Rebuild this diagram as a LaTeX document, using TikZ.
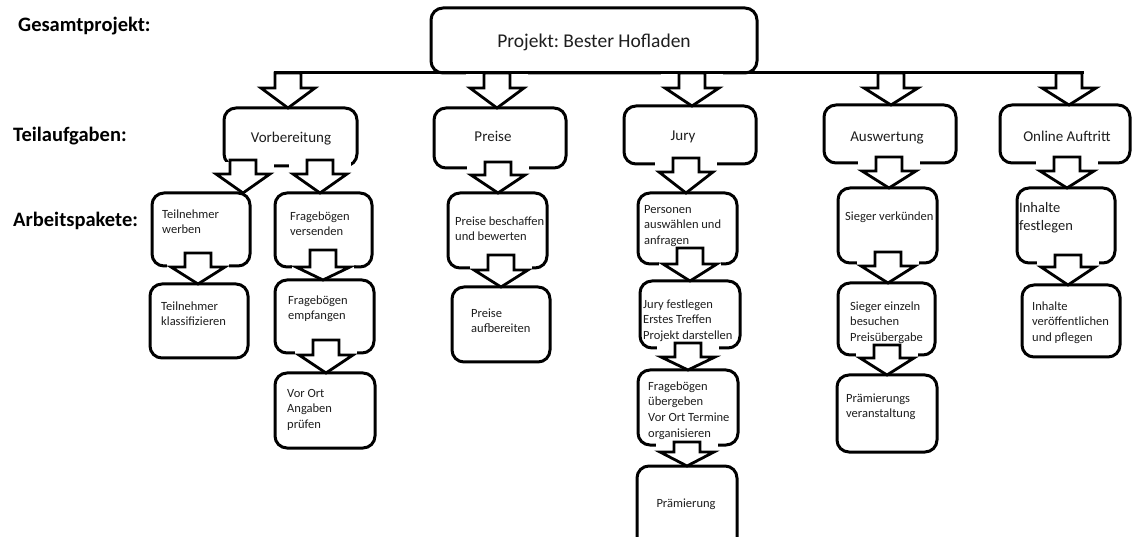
\documentclass[tikz,border=0pt]{standalone}
\usepackage{fontspec}
\setmainfont{Carlito}
\frenchspacing
\usetikzlibrary{calc}
\definecolor{ink}{HTML}{1E1E1E}
\newcommand\fs{\rule{0pt}{10pt}}
\newcommand\fL{\rule{0pt}{12pt}}
\tikzset{
  box/.style={draw=black, line width=3pt, rounded corners=12pt, outer sep=0pt, inner sep=0pt, anchor=north west},
  txt/.style={font=\fontsize{12.5}{15.7}\selectfont, text=ink, inner sep=0pt, anchor=north west, align=left, yshift=10pt},
  txtL/.style={font=\fontsize{14.5}{18}\selectfont, text=ink, inner sep=0pt, anchor=north west, align=left, yshift=12pt},
  mid/.style={font=\fontsize{15}{18}\selectfont, text=ink, inner sep=0pt, anchor=base},
  lbl/.style={font=\bfseries\fontsize{20.5}{24}\selectfont, inner sep=0pt, anchor=base west},
  blkar/.style={draw=black, fill=white, line width=2.8pt, line join=miter},
  barline/.style={draw=black, line width=3pt, line cap=rect}
}
\newcommand\bx[5]{\node[box, minimum width={#4-#2}, minimum height={#5-#3}] (#1) at (#2,#3) {};}
% #1 parent point, #2 child node, #3 x, #4 stem top above parent, #5 head top below parent
\newcommand\blk[5]{%
  \fill[white] let \p1=(#1) in (#3pt-31pt,\y1-3.5pt) rectangle (#3pt+31pt,\y1+3.5pt);
  \draw[blkar] let \p1=(#1), \p2=(#2.north) in
    (#3pt-13pt,\y1+#4pt) -- (#3pt+13pt,\y1+#4pt) -- (#3pt+13pt,\y1-#5pt) --
    (#3pt+27pt,\y1-#5pt) -- (#3pt,\y2) -- (#3pt-27pt,\y1-#5pt) --
    (#3pt-13pt,\y1-#5pt) -- cycle;
}
\begin{document}
\begin{tikzpicture}[x=1pt,y=-1pt]
\useasboundingbox (0,0) rectangle (1136,537);
\fill[white] (0,0) rectangle (1136,537);

% row labels
\node[lbl] (lg) at (18,32) {Gesamtprojekt:};
\node[lbl] (lt) at (13,142) {Teilaufgaben:};
\node[lbl] (la) at (13,227) {Arbeitspakete:};

% boxes
\bx{top}{431}{8}{757}{73}
\bx{vorb}{224}{108}{357}{166}
\bx{preise}{434}{108}{566}{168}
\bx{jury}{624}{106}{756}{164}
\bx{ausw}{824}{105}{956}{163}
\bx{online}{1000}{105}{1130}{163}
\bx{tw}{152}{193}{250}{266}
\bx{tk}{150}{284}{248}{358}
\bx{fv}{275}{193}{372}{267}
\bx{fe}{275}{280}{374}{353}
\bx{vo}{275}{373}{375}{448}
\bx{pb}{448}{193}{547}{268}
\bx{pa}{452}{287}{550}{362}
\bx{pe}{638}{193}{737}{264}
\bx{jf}{640}{281}{740}{348}
\bx{fu}{638}{370}{738}{445}
\bx{pr}{637}{466}{737}{560}
\bx{sv}{838}{188}{937}{263}
\bx{se}{838}{283}{935}{355}
\bx{pv}{837}{375}{937}{452}
\bx{if}{1017}{188}{1115}{263}
\bx{iv}{1022}{285}{1120}{357}

% texts
\node[font=\fontsize{19.5}{23}\selectfont, text=ink, inner sep=0pt, anchor=base] (ttop) at (594,48) {Projekt: Bester Hofladen};
\node[mid] (tvorb) at (291,143) {Vorbereitung};
\node[mid] (tpreise) at (493,142) {Preise};
\node[mid] (tjury) at (683,141) {Jury};
\node[mid] (tausw) at (887,142) {Auswertung};
\node[mid] (tonline) at (1067,142) {Online Auftritt};

\node[txt] (ttw) at (162,218) {\fs Teilnehmer\\werben};
\node[txt] (ttk) at (161,310) {\fs Teilnehmer\\klassifizieren};
\node[txt] (tfv) at (290,220) {\fs Fragebögen\\versenden};
\node[txt] (tfe) at (288,304) {\fs Fragebögen\\empfangen};
\node[txt] (tvo) at (287,397) {\fs Vor Ort\\Angaben\\prüfen};
\node[txt] (tpb) at (455,225) {\fs Preise beschaffen\\und bewerten};
\node[txt] (tpa) at (471,317) {\fs Preise\\aufbereiten};
\node[txt] (tpe) at (644,213) {\fs Personen\\auswählen und\\anfragen};
\node[txt] (tjf) at (643,308) {\fs Jury festlegen\\Erstes Treffen\\Projekt darstellen};
\node[txt] (tfu) at (648,390) {\fs Fragebögen\\übergeben\\Vor Ort Termine\\organisieren};
\node[font=\fontsize{12.5}{15.7}\selectfont, text=ink, inner sep=0pt, anchor=base] (tpr) at (686,507) {Prämierung};
\node[txt] (tsv) at (845,220) {\fs Sieger verkünden};
\node[txt] (tse) at (850,310) {\fs Sieger einzeln\\besuchen\\Preisübergabe};
\node[txt] (tpv) at (846,402) {\fs Prämierungs\\veranstaltung};
\node[txtL] (tif) at (1019,212) {\fL Inhalte\\festlegen};
\node[txt] (tiv) at (1032,310) {\fs Inhalte\\veröffentlichen\\und pflegen};

% top-level arrows from the bar
\coordinate (barL) at (275,73);
\coordinate (barR) at (1082,73);
\blk{barL}{vorb}{288}{0}{15}
\blk{barL}{preise}{497}{0}{15}
\blk{barL}{jury}{692}{0}{15}
\blk{barL}{ausw}{891}{0}{15}
\blk{barL}{online}{1069}{0}{15}
\draw[barline] (barL) -- (barR);

% second level
\blk{vorb.south}{tw}{243}{6}{8}
\blk{vorb.south}{fv}{320}{6}{8}
\blk{preise.south}{pb}{498}{6}{7}
\blk{jury.south}{pe}{686}{6}{8}
\blk{ausw.south}{sv}{889}{6}{8}
\blk{online.south}{if}{1067}{6}{8}

% third level
\blk{tw.south}{tk}{198}{13}{1}
\blk{fv.south}{fe}{323}{17}{0}
\blk{fe.south}{vo}{326}{13}{2}
\blk{pb.south}{pa}{501}{13}{2}
\blk{pe.south}{jf}{690}{16}{0}
\blk{jf.south}{fu}{688}{5}{9}
\blk{fu.south}{pr}{687}{3}{7}
\blk{sv.south}{se}{888}{11}{3}
\blk{se.south}{pv}{887}{10}{3}
\blk{if.south}{iv}{1068}{8}{4}
\end{tikzpicture}
\end{document}
